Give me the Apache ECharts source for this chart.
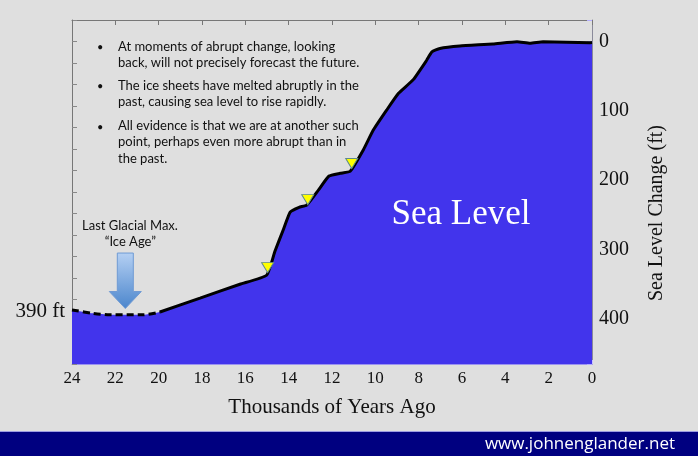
<!DOCTYPE html>
<html><head><meta charset="utf-8">
<script src="https://cdn.jsdelivr.net/npm/echarts@6/dist/echarts.min.js"></script>
<style>html,body{margin:0;padding:0;background:#dfdfdf;}#c{width:698px;height:456px;}</style>
</head><body><div id="c"></div>
<script>
// Thousands of years ago vs sea level below today (ft)
const glacialYears = [24, 23.03, 22.25, 20.72, 19.94];
const glacialFeet  = [387, 392, 394, 394, 390];
const riseYears = [19.94, 18.09, 16.25, 15.02, 14.63, 14.23, 13.93, 13.52, 13.17, 12.62, 12.14, 11.62, 11.16, 10.55, 10.1, 9.48, 8.94, 8.25, 7.63, 7.39, 7.02, 6.1, 4.57, 3.46, 2.86, 2.26, 0.09, 0];
const riseFeet  = [390, 370, 350, 337, 302, 270, 246, 239, 236, 214, 194, 190, 187, 156, 128, 99, 75, 55, 27, 15, 10, 6.5, 3.6, 0.3, 2.6, 0.3, 1.7, 1.5];
const pulseYears = [14.97, 13.12, 11.09];
const pulseFeet  = [326, 228, 176];
const rightTickLabels = [0, 100, 200, 300, 400];
const leftTickLabels = [390];
const arrowYear = 21.54, arrowFromFeet = 305, arrowToFeet = 385;
const bullets = [
  ['At moments of abrupt change, looking', 'back, will not precisely forecast the future.'],
  ['The ice sheets have melted abruptly in the', 'past, causing sea level to rise rapidly.'],
  ['All evidence is that we are at another such', 'point, perhaps even more abrupt than in', 'the past.']
];
const glacialLabel = ['Last Glacial Max.', '\u201CIce Age\u201D'];
const areaLabel = 'Sea Level';
const siteLabel = 'www.johnenglander.net';

const BLUE = '#4234ec';
const SERIF = 'Liberation Serif';
const chart = echarts.init(document.getElementById('c'), null, {renderer: 'canvas'});

const yBase = {
  type: 'value', inverse: true, min: -31, max: 465, interval: 31,
  splitLine: {show: false}
};
const xBase = {
  type: 'value', inverse: true, min: 0, max: 24, interval: 2,
  splitLine: {show: false}
};

const glacialPts = glacialYears.map((t, i) => [t, glacialFeet[i]]);
const risePts = riseYears.map((t, i) => [t, riseFeet[i]]);
const allPts = glacialPts.concat(risePts.slice(1));

const bulletGraphics = [];
const bulletTops = [38.7, 77.7, 118];
bullets.forEach((lines, i) => {
  bulletGraphics.push({type: 'text', x: 97, y: bulletTops[i] + 1, z: 50,
    style: {text: '\u2022', font: '11px Lato', fill: '#111', textVerticalAlign: 'top', lineHeight: 16}});
  bulletGraphics.push({type: 'text', x: 118, y: bulletTops[i], z: 50,
    style: {text: lines.join('\n'), font: '13px Lato', fill: '#111', textVerticalAlign: 'top', lineHeight: 16.2}});
});

chart.setOption({
  backgroundColor: '#dfdfdf',
  animation: false,
  grid: {left: 72, right: 106, top: 20, bottom: 92, containLabel: false},
  xAxis: [
    Object.assign({}, xBase, {
      position: 'bottom',
      name: 'Thousands of Years Ago', nameLocation: 'middle', nameGap: 33,
      nameTextStyle: {fontFamily: SERIF, fontSize: 21, color: '#111'},
      axisLine: {show: true, onZero: false, lineStyle: {color: '#9b93f0', width: 1}},
      axisTick: {show: true, inside: true, length: 4, lineStyle: {color: '#c8c4ff'}},
      axisLabel: {fontFamily: SERIF, fontSize: 17, color: '#111', margin: 6}
    }),
    Object.assign({}, xBase, {
      position: 'top',
      axisLine: {show: true, onZero: false, lineStyle: {color: '#777', width: 1}},
      axisTick: {show: true, inside: true, length: 5, lineStyle: {color: '#777'}},
      axisLabel: {show: false}
    })
  ],
  yAxis: [
    Object.assign({}, yBase, {
      position: 'left',
      axisLine: {show: true, onZero: false, lineStyle: {color: '#777', width: 1}},
      axisTick: {show: true, inside: true, length: 5, lineStyle: {color: '#888'}},
      axisLabel: {customValues: leftTickLabels, formatter: '{value} ft',
        fontFamily: SERIF, fontSize: 21, color: '#111', margin: 7}
    }),
    Object.assign({}, yBase, {
      position: 'right',
      name: 'Sea Level Change (ft)', nameLocation: 'middle', nameRotate: 90, nameGap: 55,
      nameTextStyle: {fontFamily: SERIF, fontSize: 20, color: '#111', padding: [0, 42, 0, 0]},
      axisLine: {show: true, onZero: false, lineStyle: {color: '#8a8a9a', width: 1}},
      axisTick: {show: true, inside: true, length: 5, lineStyle: {color: '#b4aeff'}},
      axisLabel: {customValues: rightTickLabels, fontFamily: SERIF, fontSize: 20, color: '#111', margin: 7}
    })
  ],
  series: [
    {
      type: 'line', name: 'area', xAxisIndex: 0, yAxisIndex: 0,
      data: allPts, showSymbol: false, smooth: 0.15, z: 2,
      lineStyle: {width: 0, opacity: 0},
      areaStyle: {color: BLUE, opacity: 1, origin: 'end'}
    },
    {
      type: 'line', name: 'glacial', xAxisIndex: 0, yAxisIndex: 0,
      data: glacialPts, showSymbol: false, smooth: 0.3, z: 3,
      lineStyle: {color: '#000', width: 3, type: [7, 4]}
    },
    {
      type: 'line', name: 'rise', xAxisIndex: 0, yAxisIndex: 0,
      data: risePts, showSymbol: false, smooth: 0.15, z: 3,
      lineStyle: {color: '#000', width: 3}
    },
    {
      type: 'scatter', name: 'pulses', xAxisIndex: 0, yAxisIndex: 0,
      data: pulseYears.map((t, i) => [t, pulseFeet[i]]),
      symbol: 'triangle', symbolRotate: 180, symbolSize: [12, 10], z: 5,
      itemStyle: {color: '#ffff00', borderColor: '#5e8a8a', borderWidth: 1, opacity: 1}
    }
  ],
  graphic: bulletGraphics.concat([
    {type: 'text', x: 130, y: 225.7, z: 50,
      style: {text: glacialLabel[0], font: '13px Lato', fill: '#111', textAlign: 'center', textVerticalAlign: 'middle'}},
    {type: 'text', x: 130.3, y: 241.7, z: 50,
      style: {text: glacialLabel[1], font: '13px Lato', fill: '#111', textAlign: 'center', textVerticalAlign: 'middle'}},
    {type: 'text', x: 461, y: 215, z: 50,
      style: {text: areaLabel, font: '35px "Liberation Serif"', fill: '#fff', textAlign: 'center', textVerticalAlign: 'middle'}},
    {type: 'rect', shape: {x: 0, y: 431, width: 698, height: 25}, z: 40, style: {fill: '#000080'}},
    {type: 'rect', shape: {x: 0, y: 431, width: 698, height: 1}, z: 41, style: {fill: '#9c9ce0'}},
    {type: 'text', x: 675, y: 444, z: 50,
      style: {text: siteLabel, font: '17px "Open Sans"', fill: '#fff', textAlign: 'right', textVerticalAlign: 'middle'}}
  ])
});

// Arrow annotation placed via the chart's own coordinate system
const arrowTopPx = chart.convertToPixel({gridIndex: 0}, [arrowYear, arrowFromFeet]);
const arrowTipPx = chart.convertToPixel({gridIndex: 0}, [arrowYear, arrowToFeet]);
const ax = arrowTopPx[0], headH = 17, sw = 8, hw = 16;
chart.setOption({
  graphic: [{
    id: 'arrow', type: 'polygon', z: 45,
    shape: {points: [[ax - sw, arrowTopPx[1]], [ax + sw, arrowTopPx[1]], [ax + sw, arrowTipPx[1] - headH], [ax + hw, arrowTipPx[1] - headH],
      [ax, arrowTipPx[1]], [ax - hw, arrowTipPx[1] - headH], [ax - sw, arrowTipPx[1] - headH]]},
    style: {
      fill: new echarts.graphic.LinearGradient(0, 0, 0, 1, [
        {offset: 0, color: '#b5d0f3'}, {offset: 1, color: '#4a85cc'}
      ]),
      stroke: '#6f9ad4', lineWidth: 1
    }
  }]
});
</script>
</body></html>
